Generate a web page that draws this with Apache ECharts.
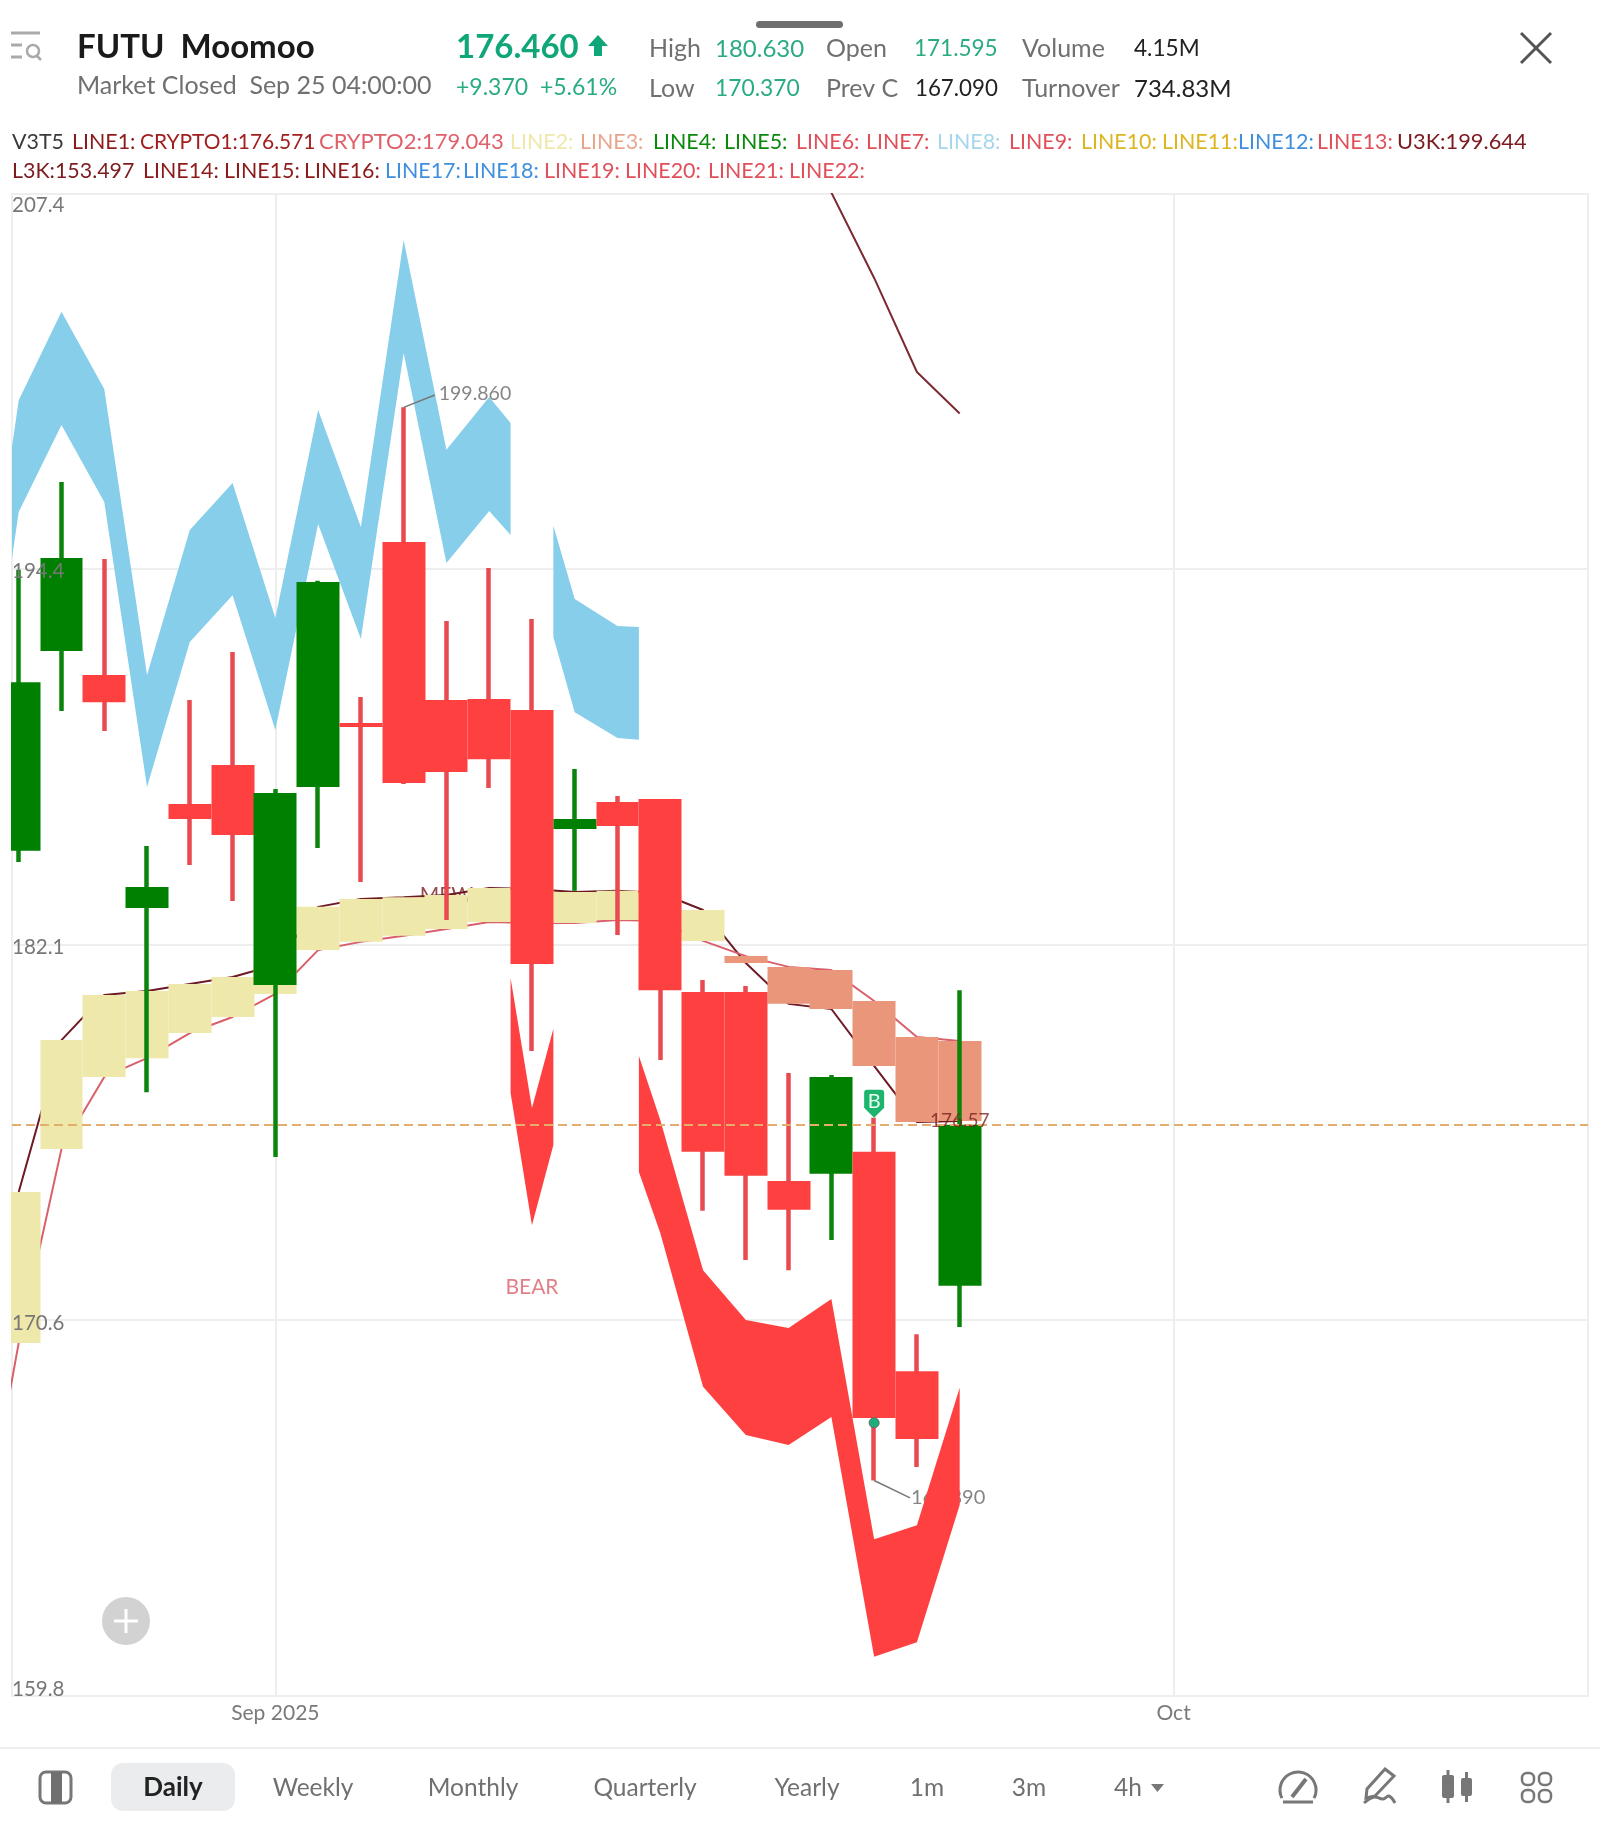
<!DOCTYPE html>
<html><head><meta charset="utf-8"><style>html,body{margin:0;padding:0;background:#fff}#c{width:1600px;height:1827px}</style>
<script src="https://cdn.jsdelivr.net/npm/echarts@6/dist/echarts.min.js"></script></head>
<body><div id="c"></div>
<script>
const FONT = 'Lato';
// trading days
const dates = ['Aug 22','Aug 25','Aug 26','Aug 27','Aug 28','Aug 29','Sep 2','Sep 3','Sep 4','Sep 5','Sep 8','Sep 9','Sep 10','Sep 11','Sep 12','Sep 15','Sep 16','Sep 17','Sep 18','Sep 19','Sep 22','Sep 23','Sep 24'];
const opens  = [185.05,191.58,190.79,183.22,186.56,187.83,180.79,187.11,189.20,195.24,189.96,189.99,189.63,185.75,186.63,186.72,180.57,180.57,174.74,174.96,175.63,169.07,171.595];
const closes = [190.55,194.70,189.89,183.89,186.08,185.56,186.92,193.89,189.07,187.24,187.60,188.02,181.45,186.08,185.85,180.63,175.63,174.90,173.87,177.93,167.70,167.09,176.46];
const lows   = [184.69,189.60,188.94,177.46,184.60,183.45,175.47,185.14,184.05,187.21,182.84,187.08,178.73,183.77,182.37,178.45,173.84,172.36,172.06,172.96,165.89,166.28,170.37];
const highs  = [194.30,197.29,194.67,185.21,189.96,191.55,187.05,193.93,190.06,199.86,192.58,194.36,192.65,187.70,186.82,186.72,180.95,180.76,178.05,177.99,176.67,170.16,180.63];
const crypto1 = [174.41,179.07,180.48,180.60,180.82,181.04,181.42,183.26,183.51,183.57,183.64,183.86,183.83,183.73,183.77,183.70,183.16,181.48,180.20,180.04,178.27,176.54,176.571];
const crypto2 = [169.90,175.72,177.93,178.51,179.29,179.79,180.51,181.89,182.15,182.34,182.56,182.78,182.75,182.75,182.84,182.81,182.18,181.70,181.36,181.26,180.29,179.17,179.043];
const crypto2Before = 163.11;
const u3kX = [19,20,21,22];
const u3k  = [207.45,204.40,201.09,199.644];
// shaded regions
const blueX1 = [-1,0,1,2,3,4,5,6,7,8,9,10,11,11.5];
const blueUpper1 = [189.99,200.11,203.20,200.50,190.79,195.65,197.25,192.68,199.77,195.75,205.75,198.39,200.22,199.32];
const blueLower1 = [186.53,196.26,199.25,196.60,187.11,191.88,193.45,188.97,195.85,191.98,201.75,194.53,196.30,195.48];
const blueX2 = [12.5,13,14,14.5];
const blueUpper2 = [195.79,193.32,192.42,192.38];
const blueLower2 = [192.05,189.56,188.71,188.65];
const redX1 = [11.5,12,12.5];
const redUpper1 = [181.01,176.97,179.42];
const redLower1 = [177.43,173.41,175.84];
const redX2 = [14.5,15,16,17,18,19,20,21,22];
const redUpper2 = [178.58,176.60,172.06,170.58,170.34,171.20,164.21,164.61,168.58];
const redLower2 = [175.02,173.17,168.61,167.21,166.92,167.73,160.89,161.30,165.19];
// axes
const yTicks = [159.8,170.58,182.07,194.35,207.4];
const yTickLabels = ['159.8','170.6','182.1','194.4','207.4'];
const yMin = 159.8, yMax = 207.4;
const xTickIndex = [6,27];
const xTickLabels = ['Sep 2025','Oct'];
const xMin = -0.157, xMax = 36.69;
const lastPrice = 176.46;
// notes
const notes = [
 {name:'199.860', x:9.82, y:200.32, pos:'right', color:'#666666', z:9, size:19.5},
 {name:'165.890', x:20.86, y:165.39, pos:'right', color:'#666666', z:2, size:20},
 {name:'MEW', x:10, y:183.64, pos:'inside', color:'#7b1f1f', z:2, size:21},
 {name:'BEAR', x:12, y:171.56, pos:'inside', color:'#d9606a', z:9, size:21},
 {name:'176.57', x:22, y:176.571, pos:'inside', color:'#7b1f1f', z:9, size:19}
];
const leaderHighX=[9,9.73], leaderHighY=[199.86,200.29];
const leaderLowX=[20,20.84], leaderLowY=[165.89,165.39];
const buyMark=[20,176.67], dotMark=[20,167.56];

const legend1 = [['V3T5','#3a3a3a',12],['LINE1:','#8b1a1a',72],['CRYPTO1:176.571','#a11f1f',140,20.9],['CRYPTO2:179.043','#e0606a',319,22],['LINE2:','#eee8aa',510],['LINE3:','#e9a58c',580],['LINE4:','#0a8a0a',653],['LINE5:','#0a8a0a',724],['LINE6:','#e0505a',796],['LINE7:','#e0505a',866],['LINE8:','#a5d6ea',937],['LINE9:','#e0505a',1009],['LINE10:','#dcb520',1081],['LINE11:','#dcb520',1162],['LINE12:','#3f8fdc',1238],['LINE13:','#e0505a',1317],['U3K:199.644','#7b1a1f',1397,21.8]];
const legend2 = [['L3K:153.497','#7b1a1f',12],['LINE14:','#8b1a1a',143],['LINE15:','#8b1a1a',224],['LINE16:','#8b1a1a',304],['LINE17:','#3f8fdc',385],['LINE18:','#3f8fdc',463],['LINE19:','#e0505a',544],['LINE20:','#e0505a',625],['LINE21:','#e0505a',708],['LINE22:','#e0505a',789]];
const tabs = [['Weekly',313],['Monthly',473],['Quarterly',645],['Yearly',807],['1m',927],['3m',1029],['4h',1128]];

const chart = echarts.init(document.getElementById('c'), null, {renderer:'canvas', width:1600, height:1827});
const green='#008000', red='#ff4040';
const LEG=21.4;
function T(x,y,t,fill,size,weight,align){return {type:'text',silent:true,z:50,style:{x,y,text:t,fill,fontSize:size,fontFamily:FONT,fontWeight:weight||'normal',align:align||'left',verticalAlign:'middle'}};}
const iconStroke={stroke:'#777',lineWidth:3,fill:'none'};
function L(x1,y1,x2,y2,st){return {type:'line',silent:true,z:50,shape:{x1,y1,x2,y2},style:st};}
function R(x,y,w,h,r,st){return {type:'rect',silent:true,z:50,shape:{x,y,width:w,height:h,r},style:st};}
const grey='#707070', upC='#2bab84';

const graphics=[
 // left edge of the plot
 {type:'rect',silent:true,z:40,shape:{x:0,y:190,width:11,height:1510},style:{fill:'#fff'}},
 // top-left
 L(11,33,40,33,{stroke:'#aaa',lineWidth:3}),L(11,45,22,45,{stroke:'#aaa',lineWidth:3}),L(11,57,22,57,{stroke:'#aaa',lineWidth:3}),
 {type:'circle',silent:true,z:50,shape:{cx:33,cy:51,r:6},style:{stroke:'#aaa',lineWidth:2.5,fill:'none'}},L(37,56,41,60,{stroke:'#aaa',lineWidth:2.5}),
 R(756,21,87,7,3.5,{fill:'#6e6e6e'}),
 T(77,86,'Market Closed  Sep 25 04:00:00',grey,25),
 T(456,47,'176.460','#0fa679',33,'bold'),
 {type:'polygon',silent:true,z:50,shape:{points:[[598,35],[608,46],[602,46],[602,56],[594,56],[594,46],[588,46]]},style:{fill:'#0fa679'}},
 T(456,88,'+9.370  +5.61%',upC,23),
 T(649,49,'High',grey,25),T(715,49,'180.630',upC,24),T(826,49,'Open',grey,25),T(914,49,'171.595',upC,22.5),T(1022,49,'Volume',grey,25),T(1134,49,'4.15M','#222',22.6),
 T(649,89,'Low',grey,25),T(715,89,'170.370',upC,22.8),T(826,89,'Prev C',grey,25),T(915,89,'167.090','#222',22.3),T(1022,89,'Turnover',grey,25),T(1134,89,'734.83M','#222',24),
 L(1521,33,1551,63,{stroke:'#555',lineWidth:3}),L(1551,33,1521,63,{stroke:'#555',lineWidth:3}),
 ...legend1.map(t=>T(t[2],142,t[0],t[1],t[3]||LEG)),
 ...legend2.map(t=>T(t[2],171,t[0],t[1],t[3]||LEG)),
 // plus
 {type:'circle',silent:true,z:50,shape:{cx:126,cy:1621,r:24},style:{fill:'#d2d2d2'}},
 L(114,1621,138,1621,{stroke:'#fff',lineWidth:3}),L(126,1609,126,1633,{stroke:'#fff',lineWidth:3}),
 // bottom bar
 L(0,1748,1600,1748,{stroke:'#eeeeee',lineWidth:2}),
 R(40,1772,31,31,6,iconStroke),R(51,1772,11,31,0,{fill:'#707070'}),
 R(111,1763,124,48,12,{fill:'#ebecee'}),
 T(173,1788,'Daily','#222',26,'bold','center'),
 ...tabs.map(t=>T(t[1],1788,t[0],grey,24.5,'normal','center')),
 {type:'polygon',silent:true,z:50,shape:{points:[[1151,1784],[1164,1784],[1157.5,1792]]},style:{fill:'#777'}},
 {type:'arc',silent:true,z:50,shape:{cx:1298,cy:1790,r:18,startAngle:Math.PI*0.85,endAngle:Math.PI*0.15,clockwise:true},style:iconStroke},
 L(1283,1802,1313,1802,iconStroke),L(1292,1797,1306,1779,{stroke:'#777',lineWidth:4}),
 {type:'polygon',silent:true,z:50,shape:{points:[[1385,1769],[1394,1776],[1375,1796],[1366,1798],[1367,1789]]},style:iconStroke},
 {type:'polyline',silent:true,z:50,shape:{points:[[1364,1803],[1374,1797],[1383,1799],[1389,1796],[1395,1803]],smooth:0.4},style:iconStroke},
 R(1442,1775,12,23,2,{fill:'#777'}),L(1448,1770,1448,1803,{stroke:'#777',lineWidth:3}),
 R(1461,1778,11,18,2,{fill:'#777'}),L(1466.5,1772,1466.5,1802,{stroke:'#777',lineWidth:3}),
 R(1522,1773,12,12,5,{stroke:'#777',lineWidth:2.5,fill:'none'}),R(1539,1773,12,12,5,{stroke:'#777',lineWidth:2.5,fill:'none'}),
 R(1522,1790,12,12,5,{stroke:'#777',lineWidth:2.5,fill:'none'}),R(1539,1790,12,12,5,{stroke:'#777',lineWidth:2.5,fill:'none'})
];

function region(name,runs,color,z){
  return {type:'custom',name,coordinateSystem:'cartesian2d',clip:true,z,silent:true,
    data:runs.map(r=>[r.x[0],r.upper[0]]),encode:{x:0,y:1},
    renderItem(params,api){
      const r=runs[params.dataIndex];
      const pts=r.x.map((x,i)=>api.coord([x,r.upper[i]]));
      for(let i=r.x.length-1;i>=0;i--) pts.push(api.coord([r.x[i],r.lower[i]]));
      return {type:'polygon',shape:{points:pts},style:{fill:color}};
    }};
}
const idx=dates.map((d,i)=>i);
const axisFont={fontFamily:FONT,fontSize:21,color:'#7a7a7a'};
function yLabel(v){
  let best=0; yTicks.forEach((t,i)=>{ if(Math.abs(t-v)<Math.abs(yTicks[best]-v)) best=i; });
  const tag = best===0?'lo':best===yTicks.length-1?'hi':'mid';
  return '{'+tag+'|'+yTickLabels[best]+'}';
}
const yRichBase={fontFamily:FONT,fontSize:20.5,color:'#777'};

chart.setOption({
  animation:false,
  backgroundColor:'#fff',
  title:{text:'FUTU  Moomoo',left:72,top:26,textStyle:{fontFamily:FONT,fontSize:33,fontWeight:'bold',color:'#1a1a1a'}},
  grid:{show:true,left:12,top:194,width:1576,height:1502,borderColor:'#eeeeee',borderWidth:2,backgroundColor:'transparent'},
  xAxis:{type:'value',min:xMin,max:xMax,
    axisLine:{show:false},axisTick:{show:false,customValues:xTickIndex},
    splitLine:{show:true,lineStyle:{color:'#eeeeee',width:2}},
    axisLabel:Object.assign({customValues:xTickIndex,margin:7,formatter:v=>xTickLabels[xTickIndex.indexOf(Math.round(v))]||''},axisFont)},
  yAxis:[
   {type:'log',min:yMin,max:yMax,axisLine:{show:false},axisTick:{show:false,customValues:yTicks},
    splitLine:{show:true,lineStyle:{color:'#eeeeee',width:2}},axisLabel:{show:false}},
   {type:'log',position:'left',min:yMin,max:yMax,z:20,axisLine:{show:false},axisTick:{show:false,customValues:yTicks},splitLine:{show:false},
    axisLabel:{inside:true,margin:0,customValues:yTicks,formatter:yLabel,showMinLabel:true,showMaxLabel:true,
      rich:{mid:Object.assign({padding:[6,0,0,0]},yRichBase),hi:Object.assign({padding:[22,0,0,0]},yRichBase),lo:Object.assign({padding:[0,0,14,0]},yRichBase)}}}
  ],
  series:[
   {type:'line',name:'CRYPTO1',data:idx.map(i=>[i,crypto1[i]]),z:3,symbol:'none',lineStyle:{color:'#6d1a22',width:2},silent:true},
   {type:'line',name:'CRYPTO2',data:[[-1,crypto2Before]].concat(idx.map(i=>[i,crypto2[i]])),z:3,symbol:'none',lineStyle:{color:'#d9606a',width:2},silent:true},
   {type:'line',name:'U3K',data:u3kX.map((x,i)=>[x,u3k[i]]),z:3,symbol:'none',lineStyle:{color:'#7b2a30',width:2},silent:true},
   {type:'line',name:'leader high',data:leaderHighX.map((x,i)=>[x,leaderHighY[i]]),z:8,symbol:'none',lineStyle:{color:'#777',width:1.5},silent:true},
   {type:'line',name:'leader low',data:leaderLowX.map((x,i)=>[x,leaderLowY[i]]),z:8,symbol:'none',lineStyle:{color:'#777',width:1.5},silent:true},
   region('LINE8',[{x:blueX1,upper:blueUpper1,lower:blueLower1},{x:blueX2,upper:blueUpper2,lower:blueLower2}],'#87ceeb',4),
   region('LINE9',[{x:redX1,upper:redUpper1,lower:redLower1},{x:redX2,upper:redUpper2,lower:redLower2}],red,4),
   {type:'candlestick',name:'LINE2',z:5,silent:true,barWidth:43.4,
    data:idx.map(i=>[i,crypto2[i],crypto1[i],Math.min(crypto1[i],crypto2[i]),Math.max(crypto1[i],crypto2[i])]),
    itemStyle:{color:'#eee8aa',color0:'#e9967a',borderWidth:0}},
   {type:'candlestick',name:'FUTU wick',z:6,silent:true,barWidth:0.01,
    data:idx.map(i=>[i,opens[i],closes[i],lows[i],highs[i]]),
    itemStyle:{color:'#0a840a',color0:'#e84a50',borderColor:'#0a840a',borderColor0:'#e84a50',borderWidth:4.5}},
   {type:'candlestick',name:'FUTU',z:7,silent:true,barWidth:43.4,
    data:idx.map(i=>[i,opens[i],closes[i],Math.min(opens[i],closes[i]),Math.max(opens[i],closes[i])]),
    itemStyle:{color:green,color0:red,borderWidth:0},
    markLine:{silent:true,symbol:'none',z:8,label:{show:false},lineStyle:{color:'#e3ad6e',width:2,type:[9,5]},data:[{yAxis:lastPrice}]}},
   ...notes.map(n=>({type:'scatter',name:n.name,z:n.z,silent:true,symbolSize:0,data:[[n.x,n.y]],
      label:{show:true,position:n.pos,distance:0,formatter:n.name,color:n.color,fontFamily:FONT,fontSize:n.size}})),
   {type:'scatter',name:'B',z:9,silent:true,data:[buyMark],symbol:'path://M3 0H17Q20 0 20 3V18L10 28L0 18V3Q0 0 3 0Z',symbolSize:[20,28],symbolOffset:[0,-14],
    itemStyle:{color:'#1db56e',opacity:1},label:{show:true,position:'inside',offset:[0,-2],formatter:'B',color:'#e8fff2',fontFamily:FONT,fontSize:20}},
   {type:'scatter',name:'entry',z:9,silent:true,data:[dotMark],symbolSize:10,itemStyle:{color:'#1daf7a',borderColor:'#666',borderWidth:1,opacity:1}}
  ],
  graphic:graphics
});
</script></body></html>
